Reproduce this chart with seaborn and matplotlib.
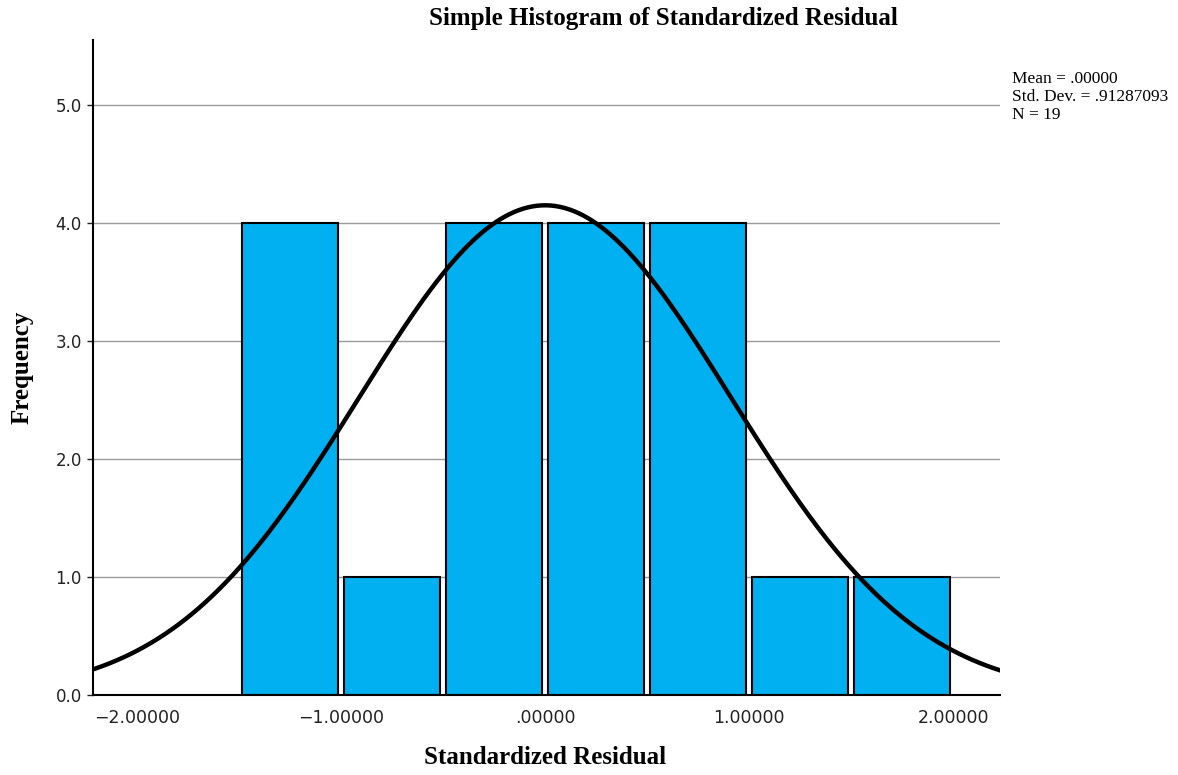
import numpy as np
import pandas as pd
import matplotlib
matplotlib.use("Agg")
import matplotlib.pyplot as plt
import seaborn as sns

# Histogram bins (standardized residual) and counts
bin_edges = [-1.5, -1.0, -0.5, 0.0, 0.5, 1.0, 1.5, 2.0]
counts = [4, 1, 4, 4, 4, 1, 1]

# Summary stats shown in the legend box
mean_val = 0.0
std_val = 0.91287093
n_obs = 19

y_ticks = [0.0, 1.0, 2.0, 3.0, 4.0, 5.0]
x_ticks = [-2.0, -1.0, 0.0, 1.0, 2.0]
x_tick_labels = ["\u22122.00000", "\u22121.00000", ".00000", "1.00000", "2.00000"]

sns.set_style("white")
serif = ["Liberation Serif", "DejaVu Serif"]

fig = plt.figure(figsize=(11.78, 7.75), dpi=100)
ax = fig.add_axes([0.079, 0.103, 0.770, 0.845])

# gridlines behind everything
for yv in y_ticks[1:]:
    ax.axhline(yv, color="#9a9a9a", lw=1.0, zorder=0)

bin_centers = [(a + b) / 2 for a, b in zip(bin_edges[:-1], bin_edges[1:])]
df = pd.DataFrame({"resid": bin_centers, "count": counts})
sns.histplot(data=df, x="resid", weights="count", bins=bin_edges,
             shrink=0.94, color="#00b0f0", alpha=1.0,
             edgecolor="black", linewidth=1.5, ax=ax, zorder=2)

# fitted normal curve scaled to counts
bw = bin_edges[1] - bin_edges[0]
xs = np.linspace(-2.25, 2.25, 400)
ys = n_obs * bw * np.exp(-0.5 * ((xs - mean_val) / std_val) ** 2) / (std_val * np.sqrt(2 * np.pi))
sns.lineplot(x=xs, y=ys, color="black", lw=3.2, ax=ax, zorder=3)

ax.set_xlim(-2.215, 2.23)
ax.set_ylim(0, 5.55)
ax.set_xticks(x_ticks)
ax.set_xticklabels(x_tick_labels)
ax.set_yticks(y_ticks)
ax.set_yticklabels([f"{v:.1f}" for v in y_ticks])
ax.tick_params(axis="x", length=0, pad=10, labelsize=12.5, colors="#222222")
ax.tick_params(axis="y", length=4, width=1, direction="out", pad=4,
               labelsize=12, colors="#222222", left=True)

for side in ["top", "right"]:
    ax.spines[side].set_visible(False)
for side in ["left", "bottom"]:
    ax.spines[side].set_color("black")
    ax.spines[side].set_linewidth(1.5)

ax.set_xlabel("")
ax.set_ylabel("")
fig.text(545 / 1178, 1 - 758 / 775, "Standardized Residual", family=serif,
         fontweight="bold", fontsize=18, ha="center", va="center",
         color="black")
fig.text(22 / 1178, 1 - 367 / 775, "Frequency", family=serif,
         fontweight="bold", fontsize=18, ha="center", va="center",
         rotation=90, color="black")
fig.text(663 / 1178, 1 - 19 / 775, "Simple Histogram of Standardized Residual",
         family=serif, fontweight="bold", fontsize=18, ha="center",
         va="center", color="black")

fig.text(1012 / 1178, 1 - 71 / 775,
         f"Mean = .00000\nStd. Dev. = {str(std_val)[1:]}\nN = {n_obs}",
         family=serif, fontsize=12.5, va="top", ha="left", linespacing=1.15,
         color="black")

fig.savefig("out.png", dpi=100)
